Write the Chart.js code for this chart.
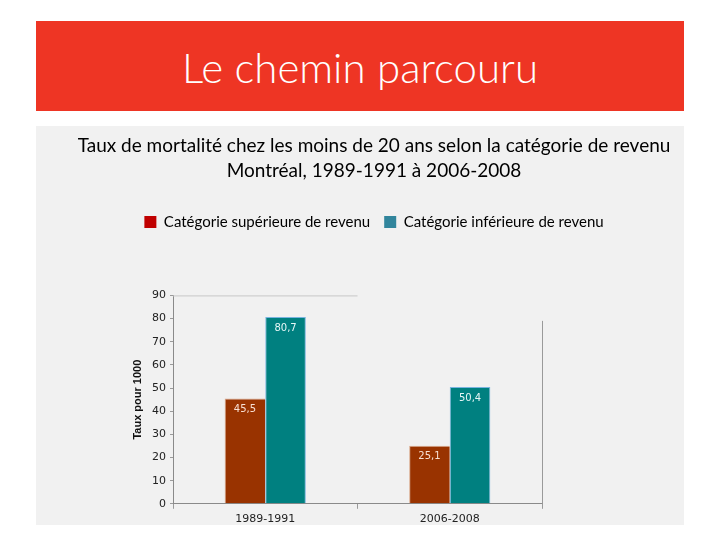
<!DOCTYPE html>
<html>
<head>
<meta charset="utf-8">
<script src="https://cdn.jsdelivr.net/npm/chart.js@4"></script>
<style>
  body { margin: 0; background: #fff; width: 720px; height: 540px; position: relative; overflow: hidden; }
  .header { position: absolute; left: 36px; top: 21px; width: 648px; height: 90px; background: #ee3524; }
  .header h1 { margin: 0; font: 300 42px Lato, sans-serif; line-height: 92px; text-align: center; color: #fff; }
  .panel { position: absolute; left: 36px; top: 126px; width: 648px; height: 399px; background: #f1f1f1; }
  .panel canvas { position: absolute; left: 0; top: 0; }
</style>
</head>
<body>
<div class="header"><h1>Le chemin parcouru</h1></div>
<div class="panel"><canvas id="chart" width="648" height="410"></canvas></div>
<script>
const categories = ["1989-1991", "2006-2008"];
const upperIncome = [45.5, 25.1];
const lowerIncome = [80.7, 50.4];
const seriesNames = ["Catégorie supérieure de revenu", "Catégorie inférieure de revenu"];
const titleLines = [
  "Taux de mortalité chez les moins de 20 ans selon la catégorie de revenu",
  "Montréal, 1989-1991 à 2006-2008"
];
const yMin = 0, yMax = 90, yStep = 10;

// space between the legend and the plot
const legendGap = {
  id: "legendGap",
  beforeInit(chart) {
    const fit = chart.legend.fit;
    chart.legend.fit = function () {
      fit.call(this);
      this.height += 56;
    };
  }
};

// numbers written inside the top of each bar
const valueLabels = {
  id: "valueLabels",
  afterDatasetsDraw(chart) {
    const ctx = chart.ctx;
    chart.data.datasets.forEach((ds, i) => {
      chart.getDatasetMeta(i).data.forEach((bar, j) => {
        ctx.save();
        ctx.fillStyle = ds.labelColor;
        ctx.font = '10px "DejaVu Sans"';
        ctx.textAlign = "center";
        ctx.textBaseline = "middle";
        ctx.fillText(String(ds.data[j]).replace(".", ","), bar.x, bar.y + 11);
        ctx.restore();
      });
    });
  }
};

// the odd partial frame lines of the original figure
const frameLines = {
  id: "frameLines",
  afterDraw(chart) {
    const { ctx, chartArea } = chart;
    const x = chart.scales.x, y = chart.scales.y;
    const mid = (x.getPixelForValue(0) + x.getPixelForValue(1)) / 2;
    ctx.save();
    ctx.lineWidth = 1;
    ctx.strokeStyle = "#c8c8c8";
    ctx.beginPath();
    ctx.moveTo(chartArea.left, y.getPixelForValue(yMax) + 0.5);
    ctx.lineTo(mid, y.getPixelForValue(yMax) + 0.5);
    ctx.stroke();
    ctx.strokeStyle = "#9a9a9a";
    ctx.beginPath();
    ctx.moveTo(chartArea.right + 0.5, y.getPixelForValue(79));
    ctx.lineTo(chartArea.right + 0.5, chartArea.bottom);
    ctx.stroke();
    ctx.restore();
  }
};

new Chart(document.getElementById("chart"), {
  type: "bar",
  data: {
    labels: categories,
    datasets: [
      {
        label: seriesNames[0],
        data: upperIncome,
        backgroundColor: "#993300",
        borderColor: "#d9a98c",
        borderWidth: { top: 1, left: 1, right: 0, bottom: 0 },
        labelColor: "#f8e0d4",
        legendColor: "#c00000"
      },
      {
        label: seriesNames[1],
        data: lowerIncome,
        backgroundColor: "#008080",
        borderColor: "#79b4e0",
        borderWidth: { top: 1, left: 1, right: 1, bottom: 0 },
        labelColor: "#e6f6f6",
        legendColor: "#31859c"
      }
    ]
  },
  options: {
    responsive: false,
    animation: false,
    categoryPercentage: 0.44,
    barPercentage: 1,
    layout: { padding: { left: 28, right: 0, top: 0, bottom: 6 } },
    plugins: {
      title: {
        display: true,
        text: titleLines,
        color: "#000",
        font: { family: "Lato", size: 19, weight: "normal", lineHeight: 1.3 },
        padding: { top: 8, bottom: 17 }
      },
      legend: {
        display: true,
        labels: {
          color: "#000",
          font: { family: "Lato", size: 15 },
          boxWidth: 12,
          boxHeight: 12,
          padding: 14,
          generateLabels: chart => chart.data.datasets.map((ds, i) => ({
            text: ds.label,
            fillStyle: ds.legendColor,
            strokeStyle: ds.legendColor,
            lineWidth: 0,
            datasetIndex: i
          }))
        },
        onClick: () => {}
      },
      tooltip: { enabled: false }
    },
    scales: {
      x: {
        grid: { drawOnChartArea: false, drawTicks: true, tickLength: 5, offset: true, color: "#9a9a9a" },
        border: { color: "#8a8a8a" },
        ticks: { color: "#222", padding: 4, font: { family: "DejaVu Sans", size: 11 } }
      },
      y: {
        min: yMin,
        max: yMax,
        grid: { drawOnChartArea: false, drawTicks: true, tickLength: 3, color: "#9a9a9a" },
        border: { color: "#8a8a8a" },
        ticks: { stepSize: yStep, color: "#222", padding: 4, font: { family: "DejaVu Sans", size: 11 } },
        title: {
          display: true,
          text: "Taux pour 1000",
          color: "#111",
          font: { family: "Liberation Sans", size: 11, weight: "bold" },
          padding: { top: 67, bottom: 0 }
        },
        afterFit: s => { s.width = 109; }
      },
      y2: {
        position: "right",
        grid: { display: false },
        border: { display: false },
        ticks: { display: false },
        afterFit: s => { s.width = 142; }
      }
    }
  },
  plugins: [legendGap, valueLabels, frameLines]
});
</script>
</body>
</html>
